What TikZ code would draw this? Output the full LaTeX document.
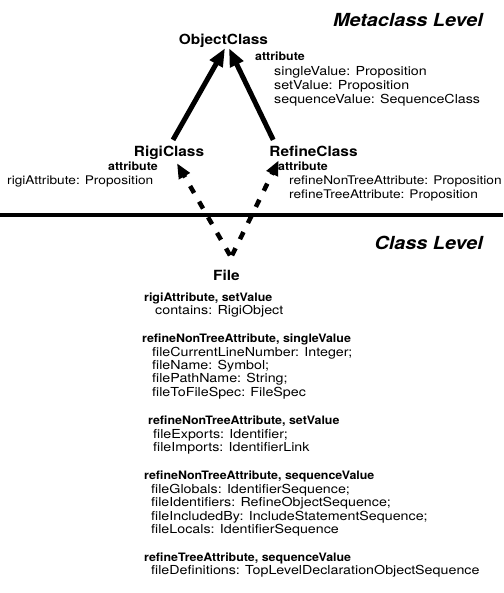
\documentclass[tikz,border=0pt]{standalone}
\usepackage{fontspec}
\setmainfont{TeX Gyre Heros}[FakeStretch=1.1]
\newfontfamily\itemfont{TeX Gyre Heros}[FakeStretch=1.15]
\newfontfamily\headfont{TeX Gyre Heros}[FakeStretch=1.07]
\usetikzlibrary{arrows.meta}

\begin{document}
\begin{tikzpicture}[
  x=1pt, y=-1pt,
  txt/.style={anchor=base west, inner sep=0pt, font=\itemfont\fontsize{12.4}{14}\selectfont},
  txtnarrow/.style={txt, font=\itemfont\fontsize{11.9}{14}\selectfont},
  hdr/.style={anchor=base west, inner sep=0pt, font=\headfont\bfseries\fontsize{11.6}{14}\selectfont},
  cls/.style={anchor=base, inner sep=1pt, font=\bfseries\fontsize{14}{16}\selectfont},
  level/.style={anchor=base east, inner sep=0pt, font=\bfseries\itshape\fontsize{18}{20}\selectfont},
  isa/.style={line width=5pt, -{Triangle[length=18pt,width=14pt]}},
  inst/.style={line width=4.5pt, dash pattern=on 8pt off 10pt, -{Triangle[length=15pt,width=12pt]}}
]
\useasboundingbox (0,0) rectangle (503,593);

% level titles and the separating rule
\node[level] (meta) at (483,27) {Metaclass Level};
\node[level] (classlvl) at (483,249) {Class Level};
\draw[line width=4.5pt] (0,215) -- (503,215);

% metaclasses
\node[cls] (oc) at (223.5,45) {ObjectClass};
\node[hdr] (ocattr) at (255,61) {attribute};
\node[txt] (oc1) at (274,76) {singleValue: Proposition};
\node[txt] (oc2) at (274,90) {setValue: Proposition};
\node[txt] (oc3) at (274,104) {sequenceValue: SequenceClass};

\node[cls] (rigi) at (169,157) {RigiClass};
\node[hdr] (rigiattr) at (108,171) {attribute};
\node[txtnarrow] (rigi1) at (7,185) {rigiAttribute: Proposition};

\node[cls] (refine) at (313.5,157) {RefineClass};
\node[hdr] (refattr) at (278,171) {attribute};
\node[txtnarrow] (ref1) at (289,185) {refineNonTreeAttribute: Proposition};
\node[txtnarrow] (ref2) at (289,199) {refineTreeAttribute: Proposition};

% class File and its attributes
\node[cls] (file) at (226.5,280) {File};

\node[hdr] (h1) at (144,301) {rigiAttribute, setValue};
\node[txt] (a1) at (155,314) {contains: RigiObject};

\node[hdr] (h2) at (142,342) {refineNonTreeAttribute, singleValue};
\node[txt] (b1) at (152,356) {fileCurrentLineNumber: Integer;};
\node[txt] (b2) at (152,369) {fileName: Symbol;};
\node[txt] (b3) at (152,382) {filePathName: String;};
\node[txt] (b4) at (152,396) {fileToFileSpec: FileSpec};

\node[hdr] (h3) at (148,424) {refineNonTreeAttribute, setValue};
\node[txt] (c1) at (153,438) {fileExports: Identifier;};
\node[txt] (c2) at (153,451) {fileImports: IdentifierLink};

\node[hdr] (h4) at (144,479) {refineNonTreeAttribute, sequenceValue};
\node[txt] (d1) at (151,493) {fileGlobals: IdentifierSequence;};
\node[txt] (d2) at (151,506) {fileIdentifiers: RefineObjectSequence;};
\node[txt] (d3) at (151,520) {fileIncludedBy: IncludeStatementSequence;};
\node[txt] (d4) at (151,533) {fileLocals: IdentifierSequence};

\node[hdr] (h5) at (144,561) {refineTreeAttribute, sequenceValue};
\node[txt] (e1) at (151,574) {fileDefinitions: TopLevelDeclarationObjectSequence};

% specialisation links
\draw[isa] ([shift={(4,-5.5)}]rigi.north) -- ([shift={(1.5,-1)}]oc.south);
\draw[isa] ([shift={(5,-5.5)}]refine.north west) -- ([shift={(5.5,-1)}]oc.south);

% instance links
\draw[inst] ([shift={(3.5,-13)}]file.north) -- ([shift={(8,2)}]rigi.south);
\draw[inst] ([shift={(5.5,-13)}]file.north) -- ([shift={(10.5,2)}]refine.south west);
\end{tikzpicture}
\end{document}
